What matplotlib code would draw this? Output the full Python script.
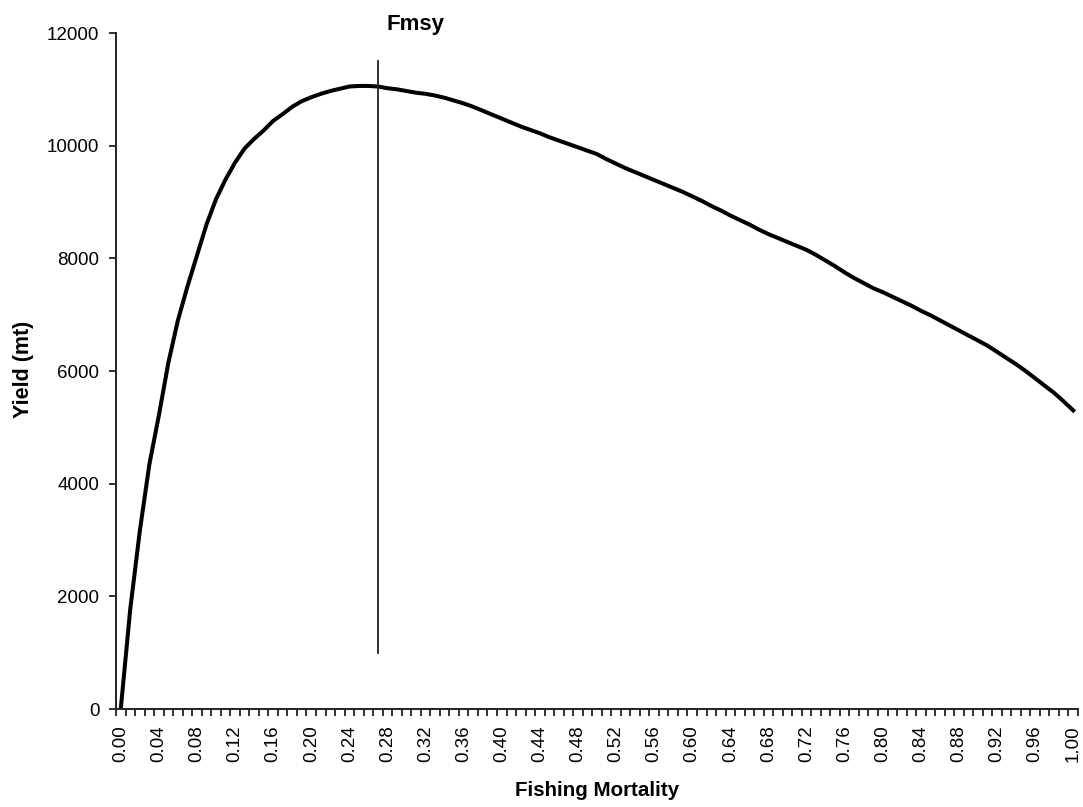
import numpy as np
import matplotlib
matplotlib.use("Agg")
import matplotlib.pyplot as plt
from matplotlib.ticker import FixedLocator, NullFormatter

# fishing mortality categories (0.00 .. 1.00 by 0.01)
f_values = np.round(np.arange(101) * 0.01, 2)

# yield (mt) at each F
yield_mt = [
    0, 1780, 3160, 4340, 5210, 6150, 6900, 7500, 8050, 8600,
    9050, 9400, 9700, 9950, 10120, 10270, 10440, 10560, 10690, 10790,
    10860, 10920, 10970, 11010, 11050, 11060, 11060, 11050, 11020, 11000,
    10970, 10940, 10920, 10890, 10850, 10800, 10750, 10690, 10620, 10550,
    10480, 10410, 10340, 10280, 10220, 10150, 10090, 10030, 9970, 9910,
    9850, 9760, 9680, 9600, 9530, 9460, 9390, 9320, 9250, 9180,
    9100, 9020, 8930, 8850, 8760, 8680, 8600, 8510, 8430, 8360,
    8290, 8220, 8150, 8060, 7960, 7860, 7750, 7650, 7560, 7470,
    7400, 7320, 7240, 7160, 7070, 6990, 6900, 6810, 6720, 6630,
    6540, 6450, 6340, 6230, 6120, 6000, 5870, 5740, 5610, 5460,
    5300,
]

# Fmsy reference line
fmsy = 0.27
fmsy_span = [1000, 11500]

y_ticks = [0, 2000, 4000, 6000, 8000, 10000, 12000]

plt.rcParams['font.family'] = ['Liberation Sans', 'DejaVu Sans']

fig = plt.figure(figsize=(10.83, 8.07), dpi=100)
ax = fig.add_axes([116 / 1083, 1 - 709 / 807, 962 / 1083, 676 / 807])

ax.plot(f_values, yield_mt, color='black', linewidth=2.9, solid_joinstyle='round')
ax.plot([fmsy, fmsy], fmsy_span, color='#222222', linewidth=1.3)
ax.text(fmsy + 0.039, 12050, 'Fmsy', ha='center', va='baseline',
        fontsize=16, fontweight='bold')

ax.set_xlim(f_values[0] - 0.005, f_values[-1] + 0.005)
ax.set_ylim(0, 12000)

# category-style x axis: marks between categories, labels every 4th category
label_f = f_values[::4]
ax.xaxis.set_major_locator(FixedLocator(label_f))
ax.set_xticklabels([f"{v:.2f}" for v in label_f], rotation=90, fontsize=13.5)
ax.xaxis.set_minor_locator(FixedLocator(np.append(f_values - 0.005, f_values[-1] + 0.005)))
ax.xaxis.set_minor_formatter(NullFormatter())
ax.tick_params(axis='x', which='major', length=0, pad=12)
ax.tick_params(axis='x', which='minor', length=5, width=1.3, color='#222222', direction='out')

ax.set_yticks(y_ticks)
ax.set_yticklabels([str(v) for v in y_ticks], fontsize=13.5)
ax.tick_params(axis='y', length=5, width=1.3, color='#222222', pad=7)

for side in ['top', 'right']:
    ax.spines[side].set_visible(False)
for side in ['left', 'bottom']:
    ax.spines[side].set_linewidth(1.4)
    ax.spines[side].set_color('#222222')

fig.text(597 / 1083, 1 - 791 / 807, 'Fishing Mortality', ha='center', va='center',
         fontsize=14.8, fontweight='bold')
fig.text(23 / 1083, 1 - 369 / 807, 'Yield (mt)', ha='center', va='center',
         rotation=90, fontsize=15.5, fontweight='bold')

fig.savefig('out.png', dpi=100, facecolor='white')
